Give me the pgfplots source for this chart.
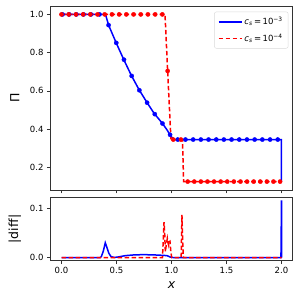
\documentclass[border=0pt]{standalone}
\usepackage{fontspec}
\setmainfont{DejaVu Sans}
\usepackage{pgfplots}
\pgfplotsset{compat=1.18}
\definecolor{mblue}{RGB}{0,0,255}
\definecolor{mred}{RGB}{255,0,0}
\begin{document}
\begin{tikzpicture}
\useasboundingbox (0pt,0pt) rectangle (300pt,300pt);
\pgfplotsset{
  base/.style={
    scale only axis, width=242pt,
    xmin=-0.1, xmax=2.1,
    axis line style={black!80, line width=0.6pt},
    every tick/.style={black!80, line width=0.6pt},
    tick align=outside, major tick length=3.5pt,
    xtick={0,0.5,1,1.5,2},
    xtick pos=lower, ytick pos=left,
    tick label style={font=\fontsize{8.5}{10}\selectfont},
    /pgf/number format/assume math mode=true,
    /pgf/number format/fixed, /pgf/number format/fixed zerofill, /pgf/number format/precision=1,
    label style={font=\fontsize{12.5}{14}\selectfont},
  },
}
\begin{axis}[base, at={(50.5pt,110pt)}, anchor=south west, height=184pt,
  ymin=0.081, ymax=1.044, ytick={0.2,0.4,0.6,0.8,1.0},
  xticklabels={},
  ylabel={Π}, ylabel style={at={(axis description cs:-0.147,0.5)}, anchor=center},
  legend style={at={(0.983,0.969)}, anchor=north east, draw=black!15, rounded corners=2pt,
    font=\fontsize{8.5}{10}\selectfont, row sep=4pt, inner sep=3.5pt},
  legend cell align=left,
  legend image code/.code={\draw[#1] (0pt,0pt) -- (23pt,0pt);},
]
\addplot[color=mblue, line width=1.5pt] coordinates {(0,1) (0.40,1) (0.428,0.944) (0.495,0.854) (0.564,0.766) (0.633,0.683) (0.703,0.608) (0.776,0.540) (0.842,0.482) (0.917,0.430) (0.96,0.395) (0.995,0.362) (1.02,0.347) (1.03,0.345) (2.0,0.345) (2.0,0.125)};
\addlegendentry{\textit{c}\textsubscript{\textit{s}}\,=\,10\textsuperscript{−3}}
\addplot[color=mred, line width=1.5pt, dash pattern=on 4.5pt off 2.5pt] coordinates {(0,1) (0.941,1) (0.965,0.704) (0.995,0.345) (1.10,0.345) (1.11,0.125) (2.0,0.125)};
\addlegendentry{\textit{c}\textsubscript{\textit{s}}\,=\,10\textsuperscript{−4}}
\addplot[only marks, mark=*, mark size=2.1pt, color=mblue, mark options={fill=mblue, draw=mblue}, forget plot] coordinates {(0.009,1) (0.070,1) (0.135,1) (0.200,1) (0.268,1) (0.345,1) (0.428,0.944) (0.498,0.851) (0.568,0.763) (0.638,0.678) (0.708,0.603) (0.778,0.538) (0.848,0.478) (0.918,0.429) (0.987,0.370) (1.057,0.345) (1.127,0.345) (1.197,0.345) (1.267,0.345) (1.337,0.345) (1.407,0.345) (1.476,0.345) (1.546,0.345) (1.616,0.345) (1.686,0.345) (1.756,0.345) (1.826,0.345) (1.896,0.345) (1.966,0.345)};
\addplot[only marks, mark=*, mark size=2.1pt, color=mred, mark options={fill=mred, draw=mred}, forget plot] coordinates {(0,1) (0.0655,1) (0.131,1) (0.1965,1) (0.262,1) (0.3275,1) (0.393,1) (0.4585,1) (0.524,1) (0.5895,1) (0.655,1) (0.7205,1) (0.786,1) (0.8515,1) (0.917,1) (0.965,0.704) (1.016,0.345) (1.086,0.345) (1.147,0.125) (1.207,0.125) (1.267,0.125) (1.327,0.125) (1.387,0.125) (1.447,0.125) (1.507,0.125) (1.567,0.125) (1.627,0.125) (1.687,0.125) (1.747,0.125) (1.807,0.125) (1.867,0.125) (1.927,0.125) (1.987,0.125)};
\end{axis}
\begin{axis}[base, at={(50.5pt,39.5pt)}, anchor=south west, height=63pt,
  ymin=-0.0058, ymax=0.1213, ytick={0,0.1},
  ylabel={|diff|}, ylabel style={at={(axis description cs:-0.147,0.5)}, anchor=center},
  xlabel={\textit{x}}, xlabel style={at={(axis description cs:0.5,-0.389)}, anchor=center},
]
\addplot[color=mblue, line width=1.5pt] coordinates {(0,0) (0.35,0) (0.362,0.002) (0.38,0.013) (0.398,0.030) (0.415,0.019) (0.43,0.009) (0.45,0.002) (0.48,0.0003) (0.52,0.0015) (0.58,0.004) (0.66,0.0055) (0.745,0.006) (0.84,0.0055) (0.93,0.0045) (0.96,0.004) (0.99,0.001) (1.02,0) (1.995,0) (2.0,0.1155) (2.0,0)};
\addplot[color=mred, line width=1.5pt, dash pattern=on 4.5pt off 2.5pt] coordinates {(0,0) (0.918,0) (0.925,0.035) (0.932,0.0714) (0.938,0.05) (0.944,0.012) (0.952,0.025) (0.962,0.0388) (0.968,0.03) (0.974,0.025) (0.98,0.032) (0.986,0.033) (0.994,0.012) (1.002,0) (1.088,0) (1.095,0.0863) (1.102,0.03) (1.108,0) (2.0,0)};
\end{axis}
\end{tikzpicture}
\end{document}
